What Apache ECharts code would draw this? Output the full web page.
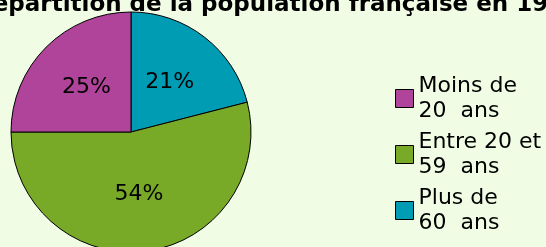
<!DOCTYPE html>
<html>
<head>
<meta charset="utf-8">
<script src="https://cdn.jsdelivr.net/npm/echarts@6/dist/echarts.min.js"></script>
<style>
html, body { margin: 0; padding: 0; background: #f0fde4; }
#chart { width: 546px; height: 247px; }
</style>
</head>
<body>
<div id="chart"></div>
<script>
// slices go clockwise from 12 o'clock
var categories = ['Plus de\n60  ans', 'Entre 20 et\n59  ans', 'Moins de\n20  ans'];
var values = [21, 54, 25];
var colors = ['#009cb4', '#78aa28', '#b0449a'];
var legendOrder = ['Moins de\n20  ans', 'Entre 20 et\n59  ans', 'Plus de\n60  ans'];
var titleText = 'Répartition de la population française en 1999';

var myChart = echarts.init(document.getElementById('chart'));

var pieData = [];
for (var i = 0; i < categories.length; i++) {
	pieData.push({
		name : categories[i],
		value : values[i],
		itemStyle : { color : colors[i] }
	});
}

var option = {
	animation : false,
	backgroundColor : '#f0fde4',
	title : {
		text : titleText,
		left : -30,
		top : -11,
		textStyle : {
			fontFamily : 'DejaVu Sans',
			fontSize : 23,
			fontWeight : 'bold',
			color : '#000'
		}
	},
	legend : {
		orient : 'vertical',
		left : 395,
		top : 61,
		height : 400,
		padding : 0,
		data : legendOrder,
		icon : 'rect',
		itemWidth : 18,
		itemHeight : 18,
		itemGap : -19,
		itemStyle : { borderColor : '#000', borderWidth : 1 },
		textStyle : {
			fontFamily : 'DejaVu Sans',
			fontSize : 22,
			lineHeight : 25,
			color : '#000',
			padding : [25, 0, 0, 0]
		}
	},
	series : [ {
		type : 'pie',
		center : [131, 132],
		radius : 120,
		startAngle : 90,
		clockwise : true,
		data : pieData,
		itemStyle : { borderColor : '#000', borderWidth : 1 },
		label : {
			position : 'inner',
			formatter : '{c}%',
			fontFamily : 'DejaVu Sans',
			fontSize : 22,
			color : '#000'
		},
		labelLine : { show : false },
		emphasis : { disabled : true }
	} ]
};
myChart.setOption(option);
</script>
</body>
</html>
